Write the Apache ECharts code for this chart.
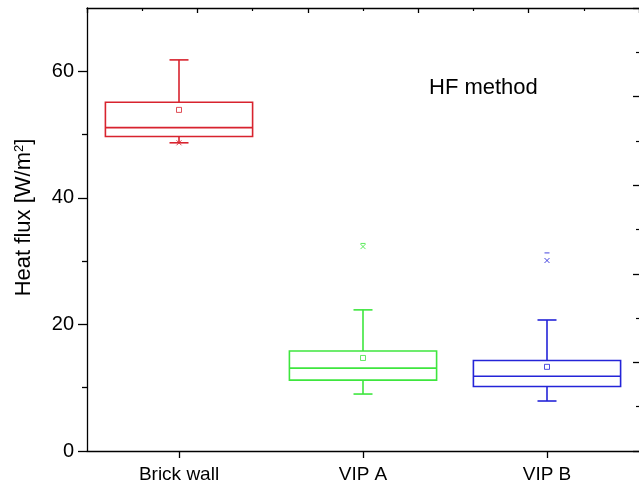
<!DOCTYPE html>
<html>
<head>
<meta charset="utf-8">
<script src="https://cdn.jsdelivr.net/npm/echarts@6/dist/echarts.min.js"></script>
<style>
html,body{margin:0;padding:0;background:#fff;}
#chart{width:639px;height:485px;}
</style>
</head>
<body>
<div id="chart"></div>
<script>
// ---- data ----
const categories = ['Brick wall', 'VIP A', 'VIP B'];
const whiskerLow  = [48.7, 9.0, 7.9];
const quart1      = [49.7, 11.2, 10.2];
const medians     = [51.1, 13.1, 11.8];
const quart3      = [55.1, 15.8, 14.3];
const whiskerHigh = [61.8, 22.3, 20.7];
const means       = [53.9, 14.7, 13.3];
const xMarkers    = [48.7, 32.3, 30.1];   // percentile markers (x)
const dashMarkers = [null, 32.8, 31.3];   // min/max markers (-)
const yMajorTicks = [0, 20, 40, 60];
const yMinorTicks = [10, 30, 50];
const titleText = 'HF method';

// ---- styles ----
const colors = ['#d8232e', '#3ee63e', '#2424d8'];
const FONT = '"Liberation Sans", Arial, Helvetica, sans-serif';

const boxData = categories.map((c, i) => [i, whiskerLow[i], quart1[i], medians[i], quart3[i], whiskerHigh[i], means[i]]);
const markData = [];
categories.forEach((c, i) => {
  if (xMarkers[i] != null) markData.push([i, xMarkers[i], 0]);
  if (dashMarkers[i] != null) markData.push([i, dashMarkers[i], 1]);
});

function renderBox(params, api) {
  const i = api.value(0);
  const x = api.coord([i, api.value(3)])[0];
  const yLow = api.coord([i, api.value(1)])[1];
  const yQ1 = api.coord([i, api.value(2)])[1];
  const yMed = api.coord([i, api.value(3)])[1];
  const yQ3 = api.coord([i, api.value(4)])[1];
  const yHigh = api.coord([i, api.value(5)])[1];
  const yMean = api.coord([i, api.value(6)])[1];
  const bw = api.size([1, 0])[0] * 0.8;
  const h = bw / 2;
  const cap = 9.5;
  const col = colors[params.dataIndex];
  const st = { stroke: col, lineWidth: 1.6, fill: null };
  const ln = (x1, y1, x2, y2, s) => ({ type: 'line', shape: { x1, y1, x2, y2 }, style: s || st });
  return {
    type: 'group',
    children: [
      { type: 'rect', shape: { x: x - h, y: yQ3, width: bw, height: yQ1 - yQ3 }, style: st },
      ln(x - h, yMed, x + h, yMed),
      ln(x, yQ3, x, yHigh),
      ln(x, yQ1, x, yLow),
      ln(x - cap, yHigh, x + cap, yHigh),
      ln(x - cap, yLow, x + cap, yLow),
      { type: 'rect', shape: { x: x - 2.5, y: yMean - 2.5, width: 5, height: 5 }, style: { stroke: col, lineWidth: 1, fill: null, opacity: 0.8 } }
    ]
  };
}

function renderMark(params, api) {
  const i = api.value(0);
  const p = api.coord([i, api.value(1)]);
  const kind = api.value(2);
  const col = colors[i];
  const s = { stroke: col, lineWidth: 1, fill: null, opacity: 0.85 };
  if (kind === 0) {
    return { type: 'group', children: [
      { type: 'line', shape: { x1: p[0] - 2.5, y1: p[1] - 2.5, x2: p[0] + 2.5, y2: p[1] + 2.5 }, style: s },
      { type: 'line', shape: { x1: p[0] + 2.5, y1: p[1] - 2.5, x2: p[0] - 2.5, y2: p[1] + 2.5 }, style: s }
    ]};
  }
  return { type: 'line', shape: { x1: p[0] - 2.5, y1: p[1], x2: p[0] + 2.5, y2: p[1] }, style: s };
}

const chart = echarts.init(document.getElementById('chart'), null, { renderer: 'canvas' });
const axisLineStyle = { color: '#000', width: 1.3 };
const tickStyle = { color: '#000', width: 1.3 };

chart.setOption({
  backgroundColor: '#fff',
  animation: false,
  textStyle: { fontFamily: FONT },
  title: {
    text: titleText, left: 424, top: 72,
    textStyle: { fontFamily: FONT, fontSize: 22, fontWeight: 'normal', color: '#000' }
  },
  grid: { left: 87, right: -1, top: 8, bottom: 34 },
  xAxis: [
    { type: 'category', data: categories, position: 'bottom',
      axisLine: { show: true, onZero: false, lineStyle: axisLineStyle },
      axisTick: { show: true, alignWithLabel: true, length: 7, lineStyle: tickStyle },
      axisLabel: { show: true, margin: 14, fontSize: 19, color: '#000', fontFamily: FONT },
      splitLine: { show: false } },
    { type: 'value', position: 'top', min: 0, max: 10, interval: 2,
      axisLine: { show: true, onZero: false, lineStyle: axisLineStyle },
      axisTick: { show: true, inside: true, length: 5, lineStyle: tickStyle },
      minorTick: { show: true, splitNumber: 2, length: 3, lineStyle: { color: '#000', width: 1.2 } },
      axisLabel: { show: false }, splitLine: { show: false } }
  ],
  yAxis: [
    { type: 'value', min: 0, max: 70, position: 'left',
      name: 'Heat flux [W/m{sup|2}]', nameLocation: 'middle', nameGap: 52,
      nameTextStyle: { fontSize: 22, color: '#000', fontFamily: FONT, padding: [0, 0, 0, 24],
        rich: { sup: { fontSize: 13, verticalAlign: 'top', color: '#000', fontFamily: FONT } } },
      axisLine: { show: true, onZero: false, lineStyle: axisLineStyle },
      axisTick: { show: true, length: 9, customValues: yMajorTicks, lineStyle: tickStyle },
      axisLabel: { margin: 13, fontSize: 20, color: '#000', fontFamily: FONT, customValues: yMajorTicks },
      splitLine: { show: false } },
    { type: 'value', min: 0, max: 10, interval: 2, position: 'right',
      axisLine: { show: false, onZero: false },
      axisTick: { show: true, inside: true, length: 6, lineStyle: tickStyle },
      minorTick: { show: true, splitNumber: 2, length: 3, lineStyle: { color: '#000', width: 1.2 } },
      axisLabel: { show: false }, splitLine: { show: false } },
    { type: 'value', min: 0, max: 70, position: 'left', offset: 0,
      axisLine: { show: false, onZero: false },
      axisTick: { show: true, length: 5, customValues: yMinorTicks, lineStyle: tickStyle },
      axisLabel: { show: false }, splitLine: { show: false } }
  ],
  series: [
    { type: 'custom', xAxisIndex: 0, yAxisIndex: 0, renderItem: renderBox,
      encode: { x: 0, y: [1, 2, 3, 4, 5, 6] }, data: boxData, clip: false },
    { type: 'custom', xAxisIndex: 0, yAxisIndex: 0, renderItem: renderMark,
      encode: { x: 0, y: 1 }, data: markData, clip: false }
  ]
});
</script>
</body>
</html>
